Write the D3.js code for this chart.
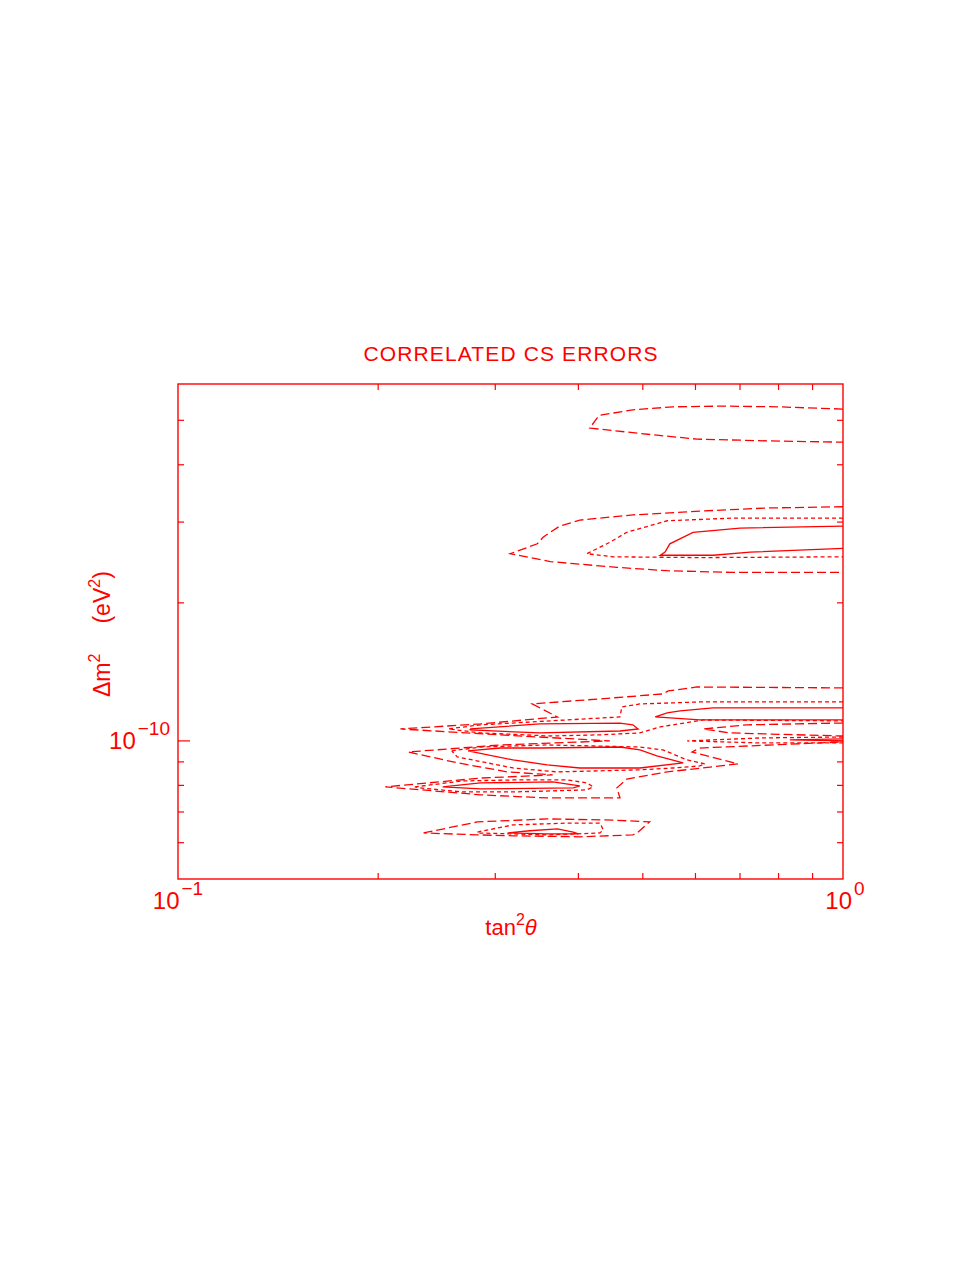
<!DOCTYPE html>
<html>
<head>
<meta charset="utf-8">
<script src="https://cdn.jsdelivr.net/npm/d3@7/dist/d3.min.js"></script>
<style>
body { margin: 0; background: #fff; }
</style>
</head>
<body>
<div class="chart-container"></div>
<script>
// x = tan^2(theta), y = dm^2 in units of 1e-10 eV^2
var xDomain = [0.1, 1];
var yDomain = [0.5, 6];
var xMinorTicks = [0.2, 0.3, 0.4, 0.5, 0.6, 0.7, 0.8, 0.9];
var yMinorTicks = [0.6, 0.7, 0.8, 0.9, 2, 3, 4, 5];
var yMajorTicks = [1];

// upper island
var topDashed = [[1.0,5.29],[0.80,5.35],[0.66,5.37],[0.555,5.35],[0.483,5.27],[0.431,5.13],[0.427,5.06],[0.416,4.81],[0.525,4.64],[0.603,4.55],[0.769,4.51],[1.0,4.48]];

// middle island
var midDashed = [[1.0,3.24],[0.769,3.22],[0.609,3.17],[0.483,3.11],[0.402,3.03],[0.375,2.94],[0.363,2.85],[0.354,2.78],[0.347,2.69],[0.316,2.56],[0.363,2.46],[0.457,2.39],[0.544,2.35],[0.683,2.33],[1.0,2.33]];
var midDotted = [[1.0,3.06],[0.683,3.06],[0.544,3.02],[0.473,2.85],[0.446,2.71],[0.412,2.56],[0.451,2.52],[0.609,2.51],[1.0,2.52]];
var midSolid = [[1.0,2.94],[0.70,2.91],[0.595,2.85],[0.549,2.69],[0.540,2.58],[0.531,2.54],[0.638,2.54],[0.725,2.58],[1.0,2.63]];

// lower band (fingers)
var lowDashed = [[1.0,1.305],[0.603,1.311],[0.546,1.285],[0.536,1.266],[0.431,1.235],[0.341,1.204],[0.372,1.128],[0.285,1.089],[0.216,1.062],[0.305,1.031],[0.446,1.000],[0.305,0.980],[0.222,0.946],[0.263,0.896],[0.313,0.856],[0.366,0.843],[0.285,0.830],[0.205,0.794],[0.285,0.763],[0.359,0.751],[0.462,0.751],[0.457,0.790],[0.473,0.826],[0.544,0.856],[0.695,0.891],[0.593,0.946],[0.609,0.965],[1.0,0.995]];
var lowDashedHole = [[1.0,1.094],[0.717,1.084],[0.616,1.062],[0.676,1.041],[1.0,1.025]];
var lowDotted1 = [[1.0,1.216],[0.609,1.216],[0.495,1.204],[0.465,1.186],[0.462,1.128],[0.363,1.106],[0.285,1.084],[0.255,1.062],[0.285,1.041],[0.363,1.025],[0.431,1.031],[0.495,1.041],[0.531,1.073],[0.616,1.111],[1.0,1.106]];
var lowDotted2 = [[0.258,0.951],[0.285,0.970],[0.359,0.980],[0.495,0.970],[0.536,0.956],[0.583,0.909],[0.620,0.891],[0.609,0.882],[0.555,0.873],[0.495,0.865],[0.372,0.856],[0.319,0.873],[0.263,0.923],[0.258,0.951]];
var lowDotted3 = [[0.227,0.794],[0.268,0.818],[0.319,0.822],[0.385,0.822],[0.412,0.810],[0.421,0.794],[0.412,0.782],[0.319,0.774],[0.268,0.774],[0.231,0.790],[0.227,0.794]];
var lowDotted4 = [[1.0,1.020],[0.750,1.015],[0.583,1.0],[0.750,0.990],[1.0,0.990]];
var lowSolid1 = [[0.275,1.062],[0.350,1.089],[0.462,1.094],[0.483,1.084],[0.492,1.062],[0.462,1.051],[0.350,1.041],[0.275,1.057],[0.275,1.062]];
var lowSolid2 = [[1.0,1.180],[0.638,1.180],[0.569,1.163],[0.544,1.151],[0.522,1.128],[0.609,1.111],[1.0,1.111]];
var lowSolid3 = [[0.273,0.951],[0.305,0.965],[0.350,0.965],[0.462,0.970],[0.495,0.956],[0.525,0.928],[0.575,0.896],[0.495,0.873],[0.402,0.873],[0.359,0.887],[0.319,0.909],[0.273,0.951]];
var lowSolid4 = [[0.250,0.794],[0.285,0.810],[0.366,0.814],[0.402,0.798],[0.393,0.790],[0.285,0.786],[0.250,0.794]];
var lowSolid5 = [[1.0,1.010],[0.832,1.005],[1.0,1.0]];

// bottom island
var botDashed = [[0.234,0.630],[0.282,0.666],[0.359,0.676],[0.451,0.672],[0.512,0.666],[0.490,0.630],[0.483,0.624],[0.402,0.618],[0.319,0.621],[0.282,0.624],[0.234,0.630]];
var botDotted = [[0.282,0.633],[0.319,0.656],[0.385,0.662],[0.431,0.662],[0.436,0.640],[0.431,0.630],[0.359,0.624],[0.282,0.630],[0.282,0.633]];
var botSolid = [[0.313,0.630],[0.338,0.637],[0.372,0.643],[0.393,0.633],[0.400,0.627],[0.359,0.627],[0.313,0.630]];

(function () {
var red = "#ff0000";
var W = 977, H = 1264;
var left = 178, right = 843, top = 384, bottom = 879;

var svg = d3.select(".chart-container").append("svg").attr("width", W).attr("height", H)
  .attr("font-family", "'Liberation Sans', Arial, sans-serif");

var x = d3.scaleLog().domain(xDomain).range([left, right]);
var y = d3.scaleLog().domain(yDomain).range([bottom, top]);

var dashes = { solid: null, dotted: "4,3", dashed: "9,4" };

var contours = [
  [topDashed, "dashed"],
  [midDashed, "dashed"], [midDotted, "dotted"], [midSolid, "solid"],
  [lowDashed, "dashed"], [lowDashedHole, "dashed"],
  [lowDotted1, "dotted"], [lowDotted2, "dotted"], [lowDotted3, "dotted"], [lowDotted4, "dotted"],
  [lowSolid1, "solid"], [lowSolid2, "solid"], [lowSolid3, "solid"], [lowSolid4, "solid"], [lowSolid5, "solid"],
  [botDashed, "dashed"], [botDotted, "dotted"], [botSolid, "solid"]
];

var line = d3.line().x(function (d) { return x(d[0]); }).y(function (d) { return y(d[1]); });

svg.append("defs").append("clipPath").attr("id", "plotclip")
  .append("rect").attr("x", left).attr("y", top).attr("width", right - left).attr("height", bottom - top);

var g = svg.append("g").attr("clip-path", "url(#plotclip)");
contours.forEach(function (c) {
  g.append("path")
    .attr("d", line(c[0]))
    .attr("fill", "none")
    .attr("stroke", red)
    .attr("stroke-width", 1.3)
    .attr("stroke-dasharray", dashes[c[1]]);
});

// frame
svg.append("rect")
  .attr("x", left).attr("y", top)
  .attr("width", right - left).attr("height", bottom - top)
  .attr("fill", "none").attr("stroke", red).attr("stroke-width", 1.4);

// ticks
xMinorTicks.forEach(function (t) {
  svg.append("line").attr("x1", x(t)).attr("x2", x(t)).attr("y1", bottom).attr("y2", bottom - 6)
    .attr("stroke", red).attr("stroke-width", 1.2);
  svg.append("line").attr("x1", x(t)).attr("x2", x(t)).attr("y1", top).attr("y2", top + 6)
    .attr("stroke", red).attr("stroke-width", 1.2);
});
yMinorTicks.forEach(function (t) {
  svg.append("line").attr("x1", left).attr("x2", left + 6).attr("y1", y(t)).attr("y2", y(t))
    .attr("stroke", red).attr("stroke-width", 1.2);
  svg.append("line").attr("x1", right).attr("x2", right - 6).attr("y1", y(t)).attr("y2", y(t))
    .attr("stroke", red).attr("stroke-width", 1.2);
});
yMajorTicks.forEach(function (t) {
  svg.append("line").attr("x1", left).attr("x2", left + 12).attr("y1", y(t)).attr("y2", y(t))
    .attr("stroke", red).attr("stroke-width", 1.2);
  svg.append("line").attr("x1", right).attr("x2", right - 12).attr("y1", y(t)).attr("y2", y(t))
    .attr("stroke", red).attr("stroke-width", 1.2);
});

// tick labels
function powLabel(px, py, anchor, base, exp) {
  var t = svg.append("text").attr("x", px).attr("y", py).attr("text-anchor", anchor)
    .attr("font-size", 24).attr("fill", red);
  t.append("tspan").text(base);
  t.append("tspan").attr("dy", -14).attr("dx", 2).attr("font-size", 19).text(exp);
}
powLabel(x(xDomain[0]), 909, "middle", "10", "\u22121");
powLabel(x(xDomain[1]) + 2, 909, "middle", "10", "0");
yMajorTicks.forEach(function (t) {
  powLabel(left - 8, y(t) + 8, "end", "10", "\u221210");
});

// title
svg.append("text")
  .attr("x", (left + right) / 2).attr("y", 361)
  .attr("text-anchor", "middle").attr("font-size", 21).attr("fill", red)
  .attr("textLength", 294).attr("lengthAdjust", "spacing")
  .text("CORRELATED CS ERRORS");

// x title
var xt = svg.append("text").attr("x", 511).attr("y", 935).attr("text-anchor", "middle")
  .attr("font-size", 22).attr("fill", red);
xt.append("tspan").text("tan");
xt.append("tspan").attr("dy", -10).attr("font-size", 16).text("2");
xt.append("tspan").attr("dy", 10).attr("font-style", "italic").text("\u03b8");

// y title
var yt = svg.append("text").attr("transform", "translate(110,697) rotate(-90)")
  .attr("font-size", 23).attr("fill", red);
yt.append("tspan").text("\u0394m");
yt.append("tspan").attr("dy", -10).attr("font-size", 16).text("2");
yt.append("tspan").attr("dy", 10).attr("dx", 30).text("(eV");
yt.append("tspan").attr("dy", -10).attr("font-size", 16).text("2");
yt.append("tspan").attr("dy", 10).text(")");
})();
</script>
</body>
</html>
